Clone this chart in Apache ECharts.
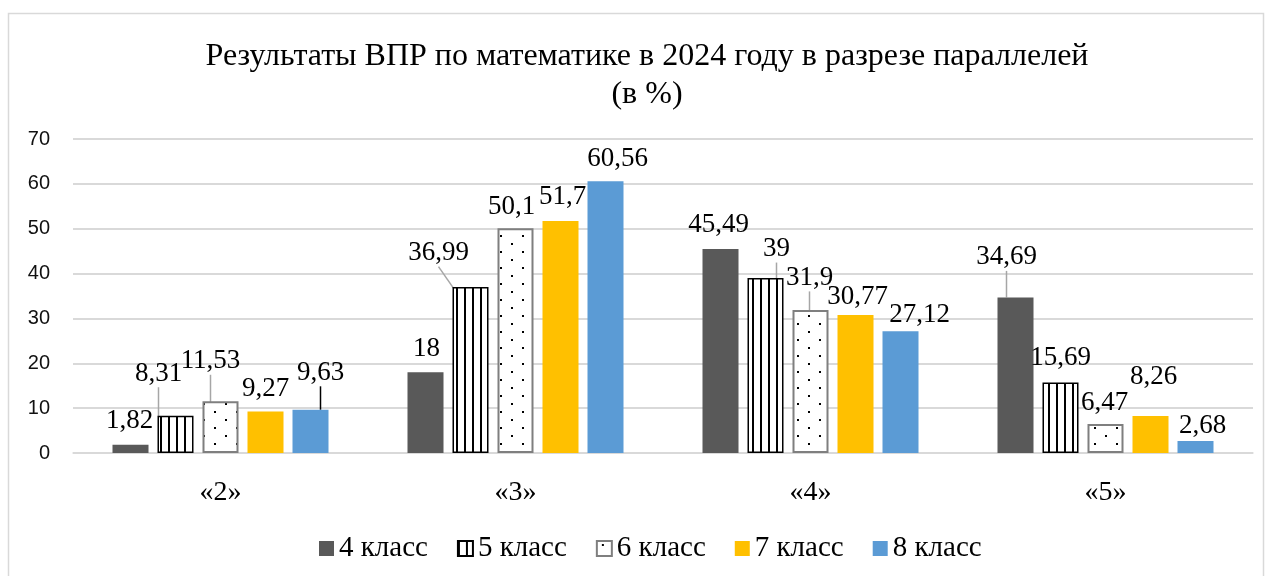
<!DOCTYPE html>
<html>
<head>
<meta charset="utf-8">
<script src="https://cdn.jsdelivr.net/npm/echarts@6/dist/echarts.min.js"></script>
<style>
  html, body { margin: 0; padding: 0; background: #fff; }
  #chart { width: 1271px; height: 576px; }
</style>
</head>
<body>
<div id="chart"></div>
<script>
const categories = ['«2»', '«3»', '«4»', '«5»'];
const seriesNames = ['4 класс', '5 класс', '6 класс', '7 класс', '8 класс'];
const grade4 = [1.82, 18, 45.49, 34.69];
const grade5 = [8.31, 36.99, 39, 15.69];
const grade6 = [11.53, 50.1, 31.9, 6.47];
const grade7 = [9.27, 51.7, 30.77, 8.26];
const grade8 = [9.63, 60.56, 27.12, 2.68];
const yTicks = { min: 0, max: 70, step: 10 };

// сдвиги подписей (как в исходной диаграмме) и выноски
const labelShift = [
    [[-1, -5.5], [1, -4.5], [-2, -5.5], [-9, -21.5]],
    [[-17, -23.5], [-32, -15.5], [11, -10.5], [0, -6.5]],
    [[-10, -21.5], [-4, -2.5], [-1, -13.5], [-1, -2.5]],
    [[0, -4.5], [2, -5.5], [2, 0.5], [3, -20.5]],
    [[10, -18.5], [12, -3.5], [19, 2.5], [7, 3.5]],
];
const leaders = [
    [null, null, null, '#a6a6a6'],
    ['#a6a6a6', '#a6a6a6', '#a6a6a6', null],
    ['#a6a6a6', null, '#a6a6a6', null],
    [null, null, null, null],
    ['#000', null, null, null],
];

function stripePattern() {
    const c = document.createElement('canvas');
    c.width = 8; c.height = 8;
    const ctx = c.getContext('2d');
    ctx.fillStyle = '#fff';
    ctx.fillRect(0, 0, 8, 8);
    ctx.fillStyle = '#000';
    ctx.fillRect(0, 0, 2, 8);
    return c;
}

function dotPattern() {
    const c = document.createElement('canvas');
    c.width = 22; c.height = 16;
    const ctx = c.getContext('2d');
    ctx.fillStyle = '#fff';
    ctx.fillRect(0, 0, 22, 16);
    ctx.fillStyle = '#000';
    ctx.fillRect(5, 3, 2, 2);
    ctx.fillRect(16, 11, 2, 2);
    return c;
}

const serif = '"Liberation Serif", "Times New Roman", serif';
const styles = [
    { color: '#595959' },
    { color: { image: stripePattern(), repeat: 'repeat' }, borderColor: '#000', borderWidth: 1.5 },
    { color: { image: dotPattern(), repeat: 'repeat' }, borderColor: '#7f7f7f', borderWidth: 2 },
    { color: '#ffc000' },
    { color: '#5b9bd5' },
];
const values = [grade4, grade5, grade6, grade7, grade8];

const chart = echarts.init(document.getElementById('chart'));

chart.setOption({
    backgroundColor: '#fff',
    animation: false,
    title: {
        text: 'Результаты ВПР по математике в 2024 году в разрезе параллелей\n(в %)',
        left: 642,
        textAlign: 'center',
        top: 33,
        textStyle: { fontFamily: serif, fontSize: 32, fontWeight: 'normal', color: '#000', lineHeight: 38 },
    },
    graphic: [{
        type: 'rect',
        shape: { x: 8.5, y: 13.5, width: 1255, height: 600 },
        style: { fill: 'none', stroke: '#d9d9d9', lineWidth: 1.5 },
        silent: true,
    }],
    legend: {
        left: 314,
        top: 529,
        icon: 'rect',
        itemWidth: 15,
        itemHeight: 15,
        itemGap: 29,
        textStyle: { fontFamily: serif, fontSize: 29, color: '#000' },
        data: seriesNames,
    },
    grid: { left: 73, right: 18, top: 139, bottom: 123 },
    xAxis: {
        type: 'category',
        data: categories,
        axisLine: { lineStyle: { color: '#d9d9d9', width: 1.5 } },
        axisTick: { show: false },
        axisLabel: { fontFamily: serif, fontSize: 28, color: '#000', margin: 26 },
    },
    yAxis: {
        type: 'value',
        min: yTicks.min,
        max: yTicks.max,
        interval: yTicks.step,
        axisLine: { show: false },
        axisTick: { show: false },
        splitLine: { lineStyle: { color: '#d9d9d9', width: 2 } },
        axisLabel: { fontFamily: '"Liberation Sans", Arial, sans-serif', fontSize: 20, color: '#111', margin: 23 },
    },
    series: seriesNames.map((name, si) => ({
        name,
        type: 'bar',
        barWidth: 36,
        barGap: '25%',
        itemStyle: styles[si],
        data: values[si].map((v, di) => ({
            value: v,
            labelLine: leaders[si][di]
                ? { show: true, lineStyle: { color: leaders[si][di], width: 1.5 } }
                : { show: false },
        })),
        label: {
            show: true,
            position: 'top',
            distance: 5,
            fontFamily: serif,
            fontSize: 27,
            color: '#000',
            formatter: (p) => String(p.value).replace('.', ','),
        },
        labelLayout: (p) => ({ dx: labelShift[p.seriesIndex][p.dataIndex][0], dy: labelShift[p.seriesIndex][p.dataIndex][1] }),
    })),
});
</script>
</body>
</html>
